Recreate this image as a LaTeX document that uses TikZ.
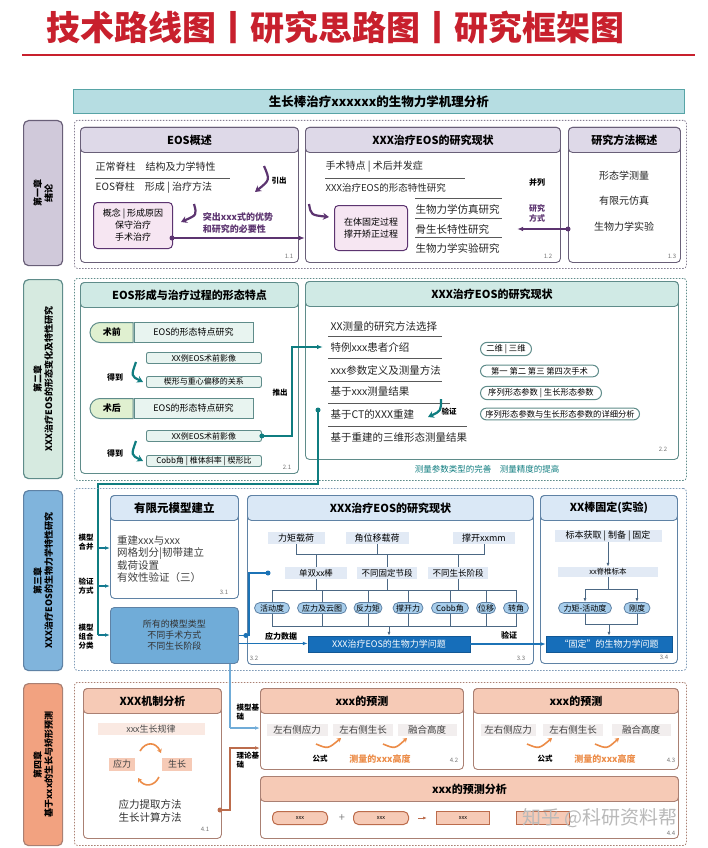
\documentclass[tikz,border=0pt]{standalone}
\usepackage{fontspec}
\setmainfont{Noto Sans CJK SC}
\usepackage{tikz}
\usetikzlibrary{arrows, arrows.meta, positioning, calc, shapes.misc}
\definecolor{titlered}{RGB}{200,32,45}
\definecolor{bannerfill}{RGB}{182,221,226}
\definecolor{purpline}{RGB}{92,52,112}
\definecolor{purpframe}{RGB}{105,95,120}
\definecolor{purpfill}{RGB}{222,217,232}
\definecolor{purpbox}{RGB}{246,230,242}
\definecolor{purpside}{RGB}{208,201,218}
\definecolor{tealline}{RGB}{15,125,128}
\definecolor{tealframe}{RGB}{95,140,138}
\definecolor{tealfill}{RGB}{208,234,229}
\definecolor{tealpale}{RGB}{232,244,240}
\definecolor{tealside}{RGB}{214,234,224}
\definecolor{greentab}{RGB}{224,240,208}
\definecolor{blueline}{RGB}{28,115,182}
\definecolor{blueframe}{RGB}{95,130,165}
\definecolor{bluefill}{RGB}{218,232,246}
\definecolor{bluepale}{RGB}{226,234,245}
\definecolor{bluepill}{RGB}{168,206,236}
\definecolor{bluemid}{RGB}{112,172,216}
\definecolor{bluedark}{RGB}{22,110,186}
\definecolor{blueside}{RGB}{128,180,220}
\definecolor{orline}{RGB}{188,108,76}
\definecolor{orframe}{RGB}{170,128,115}
\definecolor{orfill}{RGB}{246,202,182}
\definecolor{orpale}{RGB}{250,233,226}
\definecolor{orside}{RGB}{242,162,128}
\definecolor{orarrow}{RGB}{236,140,72}
\definecolor{greypale}{RGB}{242,238,238}
\tikzset{
  chapbox/.style={draw=#1, dash pattern=on 1.5pt off 1.5pt, line width=0.8pt, rounded corners=3pt, anchor=north west, inner sep=0pt},
  sidebox/.style 2 args={draw=#1, fill=#2, rounded corners=5pt, line width=1.2pt, anchor=north west, inner sep=0pt},
  sidetext/.style={rotate=90, align=center, font=\fontsize{9}{11}\selectfont\bfseries},
  panel/.style={draw=#1, fill=white, rounded corners=4pt, line width=0.9pt, anchor=north west, inner sep=0pt},
  panelhead/.style 2 args={draw=#1, fill=#2, rounded corners=4pt, line width=0.9pt, anchor=north, inner sep=0pt, minimum height=25, font=\fontsize{11}{12}\selectfont\bfseries},
  body/.style={anchor=west, inner sep=0.5pt, font=\fontsize{#1}{#1}\selectfont, text=black!85},
  body/.default=10,
  secnum/.style={font=\fontsize{6}{6}\selectfont\itshape, text=black!55},
  rule/.style={draw=black!65, line width=1pt},
  swoosh/.style={draw=#1, line width=2.2pt, -{Stealth[length=6pt,width=7pt]}},
  link/.style={draw=#1, line width=1.2pt},
  bus/.style={draw=blueframe!80!black, line width=0.9pt},
  pinkbox/.style={draw=purpline, fill=purpbox, rounded corners=4pt, line width=1pt, anchor=north west, inner sep=0pt, align=center, font=\fontsize{9}{12}\selectfont},
  tab/.style={rounded rectangle, rounded rectangle right arc=none, draw=tealframe, fill=greentab, line width=1pt, minimum width=43, minimum height=20, anchor=north west, inner sep=0pt, font=\fontsize{9}{9}\selectfont\bfseries},
  rowbox/.style={draw=tealframe, fill=tealpale, line width=1pt, minimum height=20, anchor=north west, inner sep=0pt, font=\fontsize{9}{9}\selectfont},
  smallbox/.style={draw=tealframe, fill=tealpale, rounded corners=2pt, line width=0.9pt, minimum width=115, minimum height=11, anchor=north west, inner sep=0pt, font=\fontsize{8}{8}\selectfont},
  tpill/.style={rounded rectangle, draw=tealframe, fill=white, line width=1pt, minimum height=11, inner sep=2pt, anchor=west, font=\fontsize{8.3}{8.3}\selectfont},
  lab/.style={align=center, font=\fontsize{7.5}{9}\selectfont\bfseries},
  blab/.style={fill=bluepale, minimum height=12, inner sep=1pt, font=\fontsize{#1}{#1}\selectfont},
  blab/.default=9,
  bpill/.style={rounded rectangle, draw=blueframe, fill=bluepill, line width=0.8pt, minimum height=11, inner sep=1.5pt, font=\fontsize{8}{8}\selectfont},
  bar/.style={fill=bluedark, draw=bluedark!80!black, minimum height=16, inner sep=0pt, text=white, font=\fontsize{9}{9}\selectfont},
  predlab/.style={fill=greypale, minimum height=12, inner sep=1pt, font=\fontsize{9.5}{9.5}\selectfont, text=black!75},
  minisw/.style={draw=orarrow, line width=1.6pt, -{Stealth[length=4pt,width=5pt]}},
  xbox/.style={draw=orline, fill=orfill, rounded corners=5pt, line width=1pt, minimum width=55, minimum height=13, inner sep=0pt, font=\fontsize{5.5}{5.5}\selectfont},
}
\begin{document}
\begin{tikzpicture}[x=1pt, y=-1pt]
\useasboundingbox (0,0) rectangle (707,848);
\fill[white] (0,0) rectangle (707,848);

% title and banner
\node[font=\fontsize{34}{36}\selectfont\bfseries, text=titlered] (title) at (335,28) {技术路线图丨研究思路图丨研究框架图};
\draw[titlered, line width=1.5pt] (22,55) -- (695,55);
\node[draw=tealline!70, fill=bannerfill, line width=0.8pt, minimum width=611, minimum height=24, anchor=north west, inner sep=0pt, font=\fontsize{12.5}{13}\selectfont\bfseries] (banner) at (73,89) {生长棒治疗xxxxxx的生物力学机理分析};

% ---- chapter 1
\node[sidebox={purpframe}{purpside}, minimum width=39, minimum height=145] (side1) at (23,120) {};
\node[sidetext] at (side1) {第一章\\绪论};
\node[chapbox=purpframe!80, minimum width=612, minimum height=148] (ch1) at (74,120) {};

\node[panel=purpframe, minimum width=218, minimum height=135] (eos) at (80,127) {};
\node[panelhead={purpframe}{purpfill}, minimum width=218] at (eos.north) {EOS概述};
\node[body] (normal) at (95,167) {正常脊柱\quad 结构及力学特性};
\draw[rule] (95,178) -- (230,178);
\node[body] (eosform) at (95,188) {EOS脊柱\quad 形成 | 治疗方法};
\coordinate (s1a) at (264,166); \coordinate (s1b) at (255,192);
\draw[swoosh=purpline] (s1a) .. controls (270,180) .. (s1b);
\node[font=\fontsize{7.5}{8}\selectfont\bfseries] (yinchu) at (279,181) {引出};
\node[pinkbox, minimum width=79, minimum height=46] (concept) at (93,202) {概念 | 形成原因\\保守治疗\\手术治疗};
\coordinate (s2a) at (194,204); \coordinate (s2b) at (181,222);
\draw[swoosh=purpline] (s2a) .. controls (197,215) .. (s2b);
\node[font=\fontsize{9}{11.5}\selectfont\bfseries, text=purpline, align=left] (merit) at (238,223) {突出xxx式的优势\\和研究的必要性};
\node[secnum] at (289,256) {1.1};

\node[panel=purpframe, minimum width=255, minimum height=135] (status) at (305,127) {};
\node[panelhead={purpframe}{purpfill}, minimum width=255] at (status.north) {XXX治疗EOS的研究现状};
\node[body] (surg) at (325,167) {手术特点 | 术后并发症};
\draw[rule] (325,178) -- (465,178);
\node[body=9.5] (morph) at (325,188) {XXX治疗EOS的形态特性研究};
\coordinate (s3a) at (309,204); \coordinate (s3b) at (329,217);
\draw[swoosh=purpline] (s3a) .. controls (311,215) .. (s3b);
\node[pinkbox, minimum width=73, minimum height=45] (invivo) at (334,205) {在体固定过程\\撑开矫正过程};
\draw[rule] (415,198) -- (502,198);
\draw[rule] (415,218) -- (502,218);
\draw[rule] (415,237) -- (502,237);
\node[body=10.5] (sim) at (415,209) {生物力学仿真研究};
\node[body=10.5] (bone) at (415,229) {骨生长特性研究};
\node[body=10.5] (exper) at (415,248) {生物力学实验研究};
\node[font=\fontsize{8}{8}\selectfont\bfseries] (para) at (537,182) {并列};
\node[font=\fontsize{8}{10}\selectfont\bfseries, text=purpline, align=center] (way) at (537,213) {研究\\方式};
\node[secnum] at (548,256) {1.2};

\node[panel=purpframe, minimum width=112, minimum height=135] (method) at (568,127) {};
\node[panelhead={purpframe}{purpfill}, minimum width=112] at (method.north) {研究方法概述};
\node[body, anchor=center] (m1) at (624,176) {形态学测量};
\node[body, anchor=center] (m2) at (624,201) {有限元仿真};
\node[body, anchor=center] (m3) at (624,227) {生物力学实验};
\node[secnum] at (672,256) {1.3};

\coordinate (c1) at (172,238);
\draw[link=purpline, -{Latex[length=6pt]}] (c1) -- (c1 -| status.west);
\fill[purpline] (c1) circle (2.5pt);
\coordinate (c2) at (568,229); \coordinate (c2b) at (517,229);
\draw[link=purpline, -{Latex[length=6pt]}] (c2) -- (c2b);
\fill[purpline] (c2) circle (2.5pt);

% ---- chapter 2
\node[sidebox={tealframe}{tealside}, minimum width=39, minimum height=199] (side2) at (23,279) {};
\node[sidetext] at (side2) {第二章\\XXX治疗EOS的形态变化及特性研究};
\node[chapbox=tealframe, minimum width=612, minimum height=202] (ch2) at (74,278) {};

\node[panel=tealframe, minimum width=218, minimum height=191] (shape) at (80,282) {};
\node[panelhead={tealframe}{tealfill}, minimum width=218] at (shape.north) {EOS形成与治疗过程的形态特点};
\node[tab] (pre) at (100,322) {术前};
\node[rowbox, minimum width=119] (prestudy) at (pre.north east) {EOS的形态特点研究};
\node[smallbox] (preimg) at (146,352) {XX例EOS术前影像};
\node[smallbox] (wedge) at (146,376) {楔形与重心偏移的关系};
\node[font=\fontsize{8}{8}\selectfont\bfseries] (get1) at (115,377) {得到};
\coordinate (s4a) at (136,362); \coordinate (s4b) at (143,382);
\draw[swoosh=tealline] (s4a) .. controls (131,376) .. (s4b);
\node[tab] (post) at (100,398) {术后};
\node[rowbox, minimum width=119] (poststudy) at (post.north east) {EOS的形态特点研究};
\node[smallbox] (postimg) at (146,430) {XX例EOS术前影像};
\node[font=\fontsize{8}{8}\selectfont\bfseries] (get2) at (115,453) {得到};
\coordinate (s5a) at (136,441); \coordinate (s5b) at (143,461);
\draw[swoosh=tealline] (s5a) .. controls (131,455) .. (s5b);
\node[smallbox] (cobb) at (146,455) {Cobb角 | 椎体斜率 | 楔形比};
\node[secnum] at (287,467) {2.1};

\node[panel=tealframe, minimum width=373, minimum height=178] (statusb) at (305,281) {};
\node[panelhead={tealframe}{tealfill}, minimum width=373] at (statusb.north) {XXX治疗EOS的研究现状};
\node[body=10.5] (sel) at (330,326) {XX测量的研究方法选择};
\draw[rule] (328,336) -- (442,336);
\node[body=10.5] (case) at (330,347) {特例xxx患者介绍};
\draw[rule] (328,358) -- (442,358);
\node[body=10.5] (param) at (330,370) {xxx参数定义及测量方法};
\draw[rule] (328,381) -- (442,381);
\node[body=10.5] (based) at (330,392) {基于xxx测量结果};
\draw[rule] (328,403) -- (450,403);
\node[body=10.5] (ct) at (330,414) {基于CT的XXX重建};
\draw[rule] (328,426) -- (467,426);
\node[body=10.5] (three) at (330,438) {基于重建的三维形态测量结果};
\node[font=\fontsize{7.5}{8}\selectfont\bfseries] (verify) at (449,412) {验证};
\coordinate (s6a) at (441,399); \coordinate (s6b) at (428,417);
\draw[swoosh=tealline] (s6a) .. controls (441,411) .. (s6b);
\node[tpill, minimum width=55] (dim) at (480,349) {二维 | 三维};
\node[tpill, minimum width=122] (ops) at (480,371) {第一\ 第二\ 第三\ 第四次手术};
\node[tpill, minimum width=125] (seq) at (480,393) {序列形态参数 | 生长形态参数};
\node[tpill, minimum width=163] (detail) at (480,414) {序列形态参数与生长形态参数的详细分析};
\node[secnum] at (663,449) {2.2};
\node[font=\fontsize{8.5}{8.5}\selectfont, text=tealline] (improve) at (487,469) {测量参数类型的完善\quad 测量精度的提高};

\node[font=\fontsize{7.5}{8}\selectfont\bfseries, fill=white, inner sep=1pt] (tuichu) at (280,393) {推出};
\draw[link=tealline, -{Latex[length=6pt]}, shorten >=7pt] (postimg.east) -- ++(30,0) |- (case.west);
\fill[tealline] (postimg.east) circle (2.5pt);

\coordinate (t1) at (318,410);
\coordinate (rail) at (98,484);
\coordinate (br1) at (98,548);
\coordinate (br2) at (98,586);
\coordinate (br3) at (98,635);
\draw[link=tealline] (t1) |- (rail) -- (br3);
\fill[tealline] (t1) circle (2.5pt);

% ---- chapter 3
\node[sidebox={blueframe}{blueside}, minimum width=39, minimum height=180] (side3) at (23,490) {};
\node[sidetext] at (side3) {第三章\\XXX治疗EOS的生物力学特性研究};
\node[chapbox=blueframe!80, minimum width=612, minimum height=182] (ch3) at (74,488) {};

\node[panel=blueframe, minimum width=128, minimum height=103] (fem) at (110,495) {};
\node[panelhead={blueframe}{bluefill}, minimum width=128, font=\fontsize{11.5}{12}\selectfont\bfseries] at (fem.north) {有限元模型建立};
\node[anchor=north west, align=left, inner sep=0pt, text=black!75, font=\fontsize{10.5}{12.5}\selectfont] (femtxt) at (117,535) {重建xxx与xxx\\网格划分|韧带建立\\载荷设置\\有效性验证（三）};
\node[secnum] at (224,592) {3.1};
\node[draw=blueframe, fill=bluemid, rounded corners=4pt, line width=0.9pt, minimum width=128, minimum height=56, anchor=north west, inner sep=0pt, align=center, text=black!80, font=\fontsize{9}{11}\selectfont] (allm) at (110,607) {所有的模型类型\\不同手术方式\\不同生长阶段};
\node[lab] at (86,542) {模型\\合并};
\node[lab] at (86,586) {验证\\方式};
\node[lab] at (86,637) {模型\\组合\\分类};
\draw[link=tealline!70!blueline, -{Latex[length=5pt]}] (br1) -- (br1 -| fem.west);
\draw[link=tealline!70!blueline, -{Latex[length=5pt]}] (br2) -- (br2 -| fem.west);
\draw[link=tealline!70!blueline, -{Latex[length=5pt]}] (br3) -- (br3 -| allm.west);

\node[panel=blueframe, minimum width=286, minimum height=169] (bio) at (247,495) {};
\node[panelhead={blueframe}{bluefill}, minimum width=286] at (bio.north) {XXX治疗EOS的研究现状};
\coordinate (y1) at (0,554);
\coordinate (y2) at (0,590);
\coordinate (y3) at (0,626);
\node[blab, minimum width=57] (load1) at (296,538) {力矩载荷};
\node[blab, minimum width=63] (load2) at (377,538) {角位移载荷};
\node[blab, minimum width=62] (load3) at (484,538) {撑开xxmm};
\node[blab=8.5, minimum width=62] (grp1) at (316,573) {单双xx棒};
\node[blab=8.5, minimum width=60] (grp2) at (387,573) {不同固定节段};
\node[blab=8.5, minimum width=60] (grp3) at (458,573) {不同生长阶段};
\node[bpill, minimum width=38] (pa) at (272,608) {活动度};
\node[bpill, minimum width=52] (pb) at (322,608) {应力及云图};
\node[bpill, minimum width=31] (pc) at (368,608) {反力矩};
\node[bpill, minimum width=33] (pd) at (408,608) {撑开力};
\node[bpill, minimum width=40] (pe) at (450,608) {Cobb角};
\node[bpill, minimum width=22] (pf) at (486,608) {位移};
\node[bpill, minimum width=28] (pg) at (516,608) {转角};
\node[bar, minimum width=162] (bar) at (389,644) {XXX治疗EOS的生物力学问题};
\draw[bus] (load1.south) |- (load3 |- y1) -- (load3.south);
\draw[bus] (load2.south) -- (load2 |- y1);
\foreach \g in {grp1,grp2,grp3} {
  \draw[bus] (\g |- y1) -- (\g.north);
  \draw[bus] (\g.south) -- (\g |- y2);
}
\draw[bus] (pa.north) |- (pg |- y2) -- (pg.north);
\draw[bus] (pa.south) |- (pg |- y3) -- (pg.south);
\foreach \p in {pb,pc,pd,pe,pf} {
  \draw[bus] (\p |- y2) -- (\p.north);
  \draw[bus] (\p.south) -- (\p |- y3);
}
\draw[bus, -{Latex[length=4pt]}] (bar |- y3) -- (bar.north);
\node[secnum] at (254,658) {3.2};
\node[secnum] at (521,658) {3.3};

\node[panel=blueframe, minimum width=137, minimum height=168] (fix) at (540,495) {};
\node[panelhead={blueframe}{bluefill}, minimum width=137] at (fix.north) {XX棒固定(实验)};
\node[blab, minimum width=107] (spec) at (608,536) {标本获取 | 制备 | 固定};
\node[blab=7.5, minimum width=100, minimum height=10] (vert) at (608,572) {xx脊椎标本};
\node[bpill, minimum width=56] (fa) at (585,608) {力矩-活动度};
\node[bpill, minimum width=29] (fb) at (637,608) {刚度};
\node[bar, minimum width=126] (fixbar) at (609,644) {“固定”的生物力学问题};
\coordinate (y4) at (0,589);
\coordinate (y5) at (0,624);
\draw[bus, -{Latex[length=4pt]}] (spec.south) -- (vert.north);
\draw[bus] (vert.south) -- (vert |- y4);
\draw[bus] (fa |- y4) -- (fb |- y4);
\draw[bus, -{Latex[length=4pt]}] (fa |- y4) -- (fa.north);
\draw[bus, -{Latex[length=4pt]}] (fb |- y4) -- (fb.north);
\draw[bus] (fa.south) |- (fb |- y5) -- (fb.south);
\draw[bus, -{Latex[length=4pt]}] (fixbar |- y5) -- (fixbar.north);
\node[secnum] at (664,657) {3.4};

\coordinate (c3) at (268,573);
\draw[link=blueline] (allm.east) -- ++(10,0) |- (c3);
\fill[blueline] (c3) circle (2.5pt);
\fill[blueline] ($(allm.east)+(7,0)$) circle (2.5pt);
\coordinate (sd) at ($(allm.east)+(0,8)$);
\draw[link=blueline, -{Latex[length=5pt]}] (sd) -- (sd -| bar.west);
\node[font=\fontsize{8}{8}\selectfont\bfseries] (stressdata) at (281,636) {应力数据};
\draw[link=blueline, -{Latex[length=5pt]}] (bar.east) -- (fixbar.west);
\node[font=\fontsize{8}{8}\selectfont\bfseries] (check) at (509,635) {验证};

% ---- chapter 4
\node[sidebox={orframe}{orside}, minimum width=39, minimum height=162] (side4) at (23,683) {};
\node[sidetext] at (side4) {第四章\\基于xxx的生长与矫形预测};
\node[chapbox=orframe, minimum width=612, minimum height=163] (ch4) at (74,682) {};

\node[panel=orframe, minimum width=138, minimum height=150] (mech) at (83,688) {};
\node[panelhead={orframe}{orfill}, minimum width=138] at (mech.north) {XXX机制分析};
\node[fill=orpale, minimum width=107, minimum height=12, inner sep=0pt, text=black!70, font=\fontsize{9}{9}\selectfont] (law) at (151,729) {xxx生长规律};
\node[fill=orfill, minimum width=26, minimum height=13, inner sep=0pt, text=black!75, font=\fontsize{9}{9}\selectfont] (ys) at (122,764) {应力};
\node[fill=orfill, minimum width=30, minimum height=13, inner sep=0pt, text=black!75, font=\fontsize{9}{9}\selectfont] (gr) at (177,764) {生长};
\coordinate (r1a) at (140,751); \coordinate (r1b) at (161,753);
\draw[minisw] (r1a) .. controls (146,741) and (156,742) .. (r1b);
\coordinate (r2a) at (159,777); \coordinate (r2b) at (138,778);
\draw[minisw] (r2a) .. controls (154,787) and (144,787) .. (r2b);
\node[align=center, text=black!80, font=\fontsize{10.5}{13}\selectfont] (methods) at (150,811) {应力提取方法\\生长计算方法};
\node[secnum] at (205,829) {4.1};

\node[panel=orframe, minimum width=203, minimum height=81] (pred1) at (260,688) {};
\node[panelhead={orframe}{orfill}, minimum width=203] at (pred1.north) {xxx的预测};
\node[predlab, minimum width=61] (l1) at (297,730) {左右侧应力};
\node[predlab, minimum width=60] (l2) at (363,730) {左右侧生长};
\node[predlab, minimum width=59] (l3) at (427,730) {融合高度};
\coordinate (q1a) at (316,744); \coordinate (q1b) at (341,738);
\draw[minisw] (q1a) .. controls (328,749) .. (q1b);
\coordinate (q2a) at (383,744); \coordinate (q2b) at (407,738);
\draw[minisw] (q2a) .. controls (395,749) .. (q2b);
\node[font=\fontsize{7.5}{8}\selectfont\bfseries] (f1) at (320,759) {公式};
\node[font=\fontsize{9}{9}\selectfont\bfseries, text=orarrow] (h1) at (380,759) {测量的xxx高度};
\node[secnum] at (454,760) {4.2};

\node[panel=orframe, minimum width=205, minimum height=81] (pred2) at (473,688) {};
\node[panelhead={orframe}{orfill}, minimum width=205] at (pred2.north) {xxx的预测};
\node[predlab, minimum width=55] (k1) at (508,730) {左右侧应力};
\node[predlab, minimum width=60] (k2) at (573,730) {左右侧生长};
\node[predlab, minimum width=59] (k3) at (641,730) {融合高度};
\coordinate (q3a) at (527,744); \coordinate (q3b) at (552,738);
\draw[minisw] (q3a) .. controls (539,749) .. (q3b);
\coordinate (q4a) at (595,744); \coordinate (q4b) at (619,738);
\draw[minisw] (q4a) .. controls (607,749) .. (q4b);
\node[font=\fontsize{7.5}{8}\selectfont\bfseries] (f2) at (545,759) {公式};
\node[font=\fontsize{9}{9}\selectfont\bfseries, text=orarrow] (h2) at (605,759) {测量的xxx高度};
\node[secnum] at (671,760) {4.3};

\node[panel=orframe, minimum width=418, minimum height=62] (anal) at (260,776) {};
\node[panelhead={orframe}{orfill}, minimum width=418] at (anal.north) {xxx的预测分析};
\node[xbox] (x1) at (300,818) {xxx};
\node[text=black!50, font=\fontsize{11}{11}\selectfont] (plus) at (342,818) {+};
\node[xbox] (x2) at (381,818) {xxx};
\node[xbox, rounded corners=0pt, minimum width=53] (x3) at (463,818) {xxx};
\node[xbox, rounded corners=0pt, minimum width=53] (x4) at (543,818) {};
\draw[orline, line width=1pt, -{Latex[length=4pt]}, shorten <=9pt, shorten >=9pt] (x2) -- (x3);
\node[secnum] at (671,833) {4.4};
\node[text=gray!55, font=\fontsize{19}{19}\selectfont] (mark) at (600,818) {知乎 @科研资料帮};

\coordinate (c4) at (220,810);
\coordinate (th) at (230,748);
\coordinate (mb) at (230,728);
\draw[link=bluemid] (allm.south -| mb) -- (mb);
\draw[link=bluemid, -{Latex[length=5pt]}] (mb) -- (mb -| pred1.west);
\draw[link=orline, -{Latex[length=5pt]}] (c4) -| (th) -- (th -| pred1.west);
\fill[orline] (c4) circle (2.5pt);
\node[align=left, anchor=west, font=\fontsize{7.5}{9.5}\selectfont\bfseries] (modelbase) at (233,712) {模型基\\础};
\node[align=left, anchor=west, font=\fontsize{7.5}{9.5}\selectfont\bfseries] (theorybase) at (233,760) {理论基\\础};
\end{tikzpicture}
\end{document}
